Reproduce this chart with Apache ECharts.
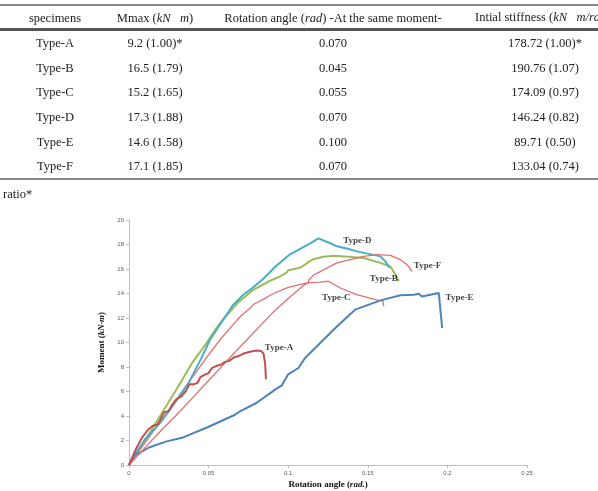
<!DOCTYPE html>
<html>
<head>
<meta charset="utf-8">
<script src="https://cdn.jsdelivr.net/npm/echarts@6/dist/echarts.min.js"></script>
<style>
html,body{margin:0;padding:0;width:598px;height:491px;overflow:hidden;background:#fff;}
#chart{position:absolute;left:0;top:0;width:598px;height:491px;}
#tbl{position:absolute;left:0;top:0;width:598px;height:200px;font-family:"Liberation Serif","DejaVu Serif",serif;font-size:12.5px;color:#222;pointer-events:none;}
.ln{position:absolute;left:0;width:598px;}
.c{position:absolute;white-space:nowrap;transform:translate(-50%,-50%);}
</style>
</head>
<body>
<div id="chart"></div>
<div id="tbl"></div>
<script>
// ---- table data ----
var tableHeaders = ['specimens', 'Mmax (<i>kN</i>&nbsp;&nbsp; <i>m</i>)', 'Rotation angle (<i>rad</i>) -At the same moment-', 'Intial stiffness (<i>kN</i>&nbsp;&nbsp; <i>m/rad</i>)'];
var specimens = ['Type-A', 'Type-B', 'Type-C', 'Type-D', 'Type-E', 'Type-F'];
var mmax = ['9.2 (1.00)*', '16.5 (1.79)', '15.2 (1.65)', '17.3 (1.88)', '14.6 (1.58)', '17.1 (1.85)'];
var rotAngle = ['0.070', '0.045', '0.055', '0.070', '0.100', '0.070'];
var stiffness = ['178.72 (1.00)*', '190.76 (1.07)', '174.09 (0.97)', '146.24 (0.82)', '89.71 (0.50)', '133.04 (0.74)'];
var footnote = 'ratio*';

// ---- chart data: [rotation angle (rad), moment (kN·m)] ----
var typeA = [[0,0],[0.004,1.2],[0.008,2.2],[0.012,2.9],[0.015,3.2],[0.018,3.3],[0.02,3.8],[0.022,4.3],[0.025,4.4],[0.027,4.9],[0.03,5.4],[0.033,5.6],[0.036,6.1],[0.038,6.6],[0.041,6.6],[0.043,6.7],[0.045,7.2],[0.048,7.4],[0.05,7.5],[0.052,7.9],[0.055,8.1],[0.058,8.2],[0.06,8.4],[0.063,8.5],[0.066,8.8],[0.069,8.9],[0.072,9.1],[0.076,9.25],[0.08,9.35],[0.083,9.3],[0.0845,9.1],[0.0855,8.3],[0.086,7.0]];
var typeB = [[0,0],[0.005,1.0],[0.01,2.0],[0.02,4.1],[0.03,6.2],[0.04,8.4],[0.0487,9.96],[0.055,11.2],[0.0592,11.9],[0.068,13.2],[0.0781,14.3],[0.088,15.0],[0.0949,15.4],[0.099,15.7],[0.1,15.9],[0.1075,16.1],[0.111,16.4],[0.113,16.6],[0.1159,16.8],[0.122,17.0],[0.1285,17.09],[0.1379,17.0],[0.1474,16.9],[0.1579,16.5],[0.1642,16.2],[0.1673,15.55],[0.1694,15.0]];
var typeC = [[0,0],[0.01,1.8],[0.02,3.6],[0.03,5.4],[0.04,7.2],[0.05,9.0],[0.057,10.2],[0.065,11.4],[0.0698,12.1],[0.0765,12.85],[0.078,13.1],[0.084,13.5],[0.0907,14.0],[0.1,14.5],[0.1117,14.86],[0.12,14.93],[0.1253,15.0],[0.1327,14.45],[0.143,13.9],[0.1568,13.44],[0.1595,13.4],[0.16,12.95]];
var typeD = [[0,0],[0.005,1.1],[0.01,2.1],[0.02,3.5],[0.03,5.3],[0.037,6.6],[0.045,8.6],[0.0508,10.2],[0.0592,11.86],[0.065,13.0],[0.0718,13.9],[0.078,14.5],[0.0844,15.2],[0.092,16.2],[0.1012,17.2],[0.1138,18.1],[0.119,18.5],[0.1264,18.1],[0.1306,17.85],[0.1379,17.63],[0.1432,17.44],[0.1579,17.03],[0.161,16.62],[0.1637,16.08]];
var typeE = [[0,0],[0.0036,0.84],[0.0068,1.0],[0.013,1.45],[0.0236,1.93],[0.034,2.25],[0.0497,3.1],[0.0666,4.1],[0.0697,4.38],[0.08,5.06],[0.0918,6.15],[0.096,6.5],[0.1,7.4],[0.1064,7.92],[0.1106,8.73],[0.1306,11.31],[0.142,12.68],[0.158,13.44],[0.1705,13.85],[0.179,13.9],[0.182,13.98],[0.184,13.76],[0.1946,14.04],[0.1967,11.18]];
var typeF = [[0,0],[0.01,1.4],[0.02,2.8],[0.03,4.1],[0.04,5.5],[0.05,6.9],[0.06,8.3],[0.0739,10.2],[0.09,12.4],[0.1,13.6],[0.11,14.7],[0.1125,14.85],[0.113,15.1],[0.1159,15.5],[0.1306,16.5],[0.1474,17.03],[0.1558,17.17],[0.1642,17.11],[0.1705,16.76],[0.1747,16.35],[0.1778,15.8]];
var seriesNames = ['Type-A', 'Type-B', 'Type-C', 'Type-D', 'Type-E', 'Type-F'];
var seriesColors = ['#C0504D', '#9BBB59', '#E07070', '#4BACC6', '#4F81BD', '#E07070'];
var seriesWidths = [2, 2, 1.3, 2, 2, 1.3];
// label anchor (data coords) for each series name
var labelPos = [[0.0942,9.58],[0.16,15.21],[0.1302,13.7],[0.1434,18.3],[0.2076,13.7],[0.1875,16.27]];
var xTicks = [0, 0.05, 0.1, 0.15, 0.2, 0.25];

// ---- build table ----
(function(){
  var t = document.getElementById('tbl');
  function line(y, h, col){ var d=document.createElement('div'); d.className='ln'; d.style.top=y+'px'; d.style.height=h+'px'; d.style.background=col; t.appendChild(d); }
  function cell(x, y, html, extra){ var d=document.createElement('div'); d.className='c'; d.style.left=x+'px'; d.style.top=y+'px'; d.innerHTML=html; if(extra){for(var k in extra) d.style[k]=extra[k];} t.appendChild(d); }
  line(4, 1.5, '#8a8a8a');
  line(28, 3, '#555');
  line(178, 1.8, '#8a8a8a');
  var cx = [55, 155, 333, 545];
  var hx = [55, 155, 333, null];
  for (var i=0;i<3;i++) cell(hx[i], 18, tableHeaders[i]);
  var h4 = document.createElement('div'); h4.style.position='absolute'; h4.style.left='475px'; h4.style.top='10px'; h4.style.whiteSpace='nowrap'; h4.innerHTML=tableHeaders[3]; t.appendChild(h4);
  var rowY0 = 43.3, rowH = 24.55;
  for (var r=0;r<specimens.length;r++){
    var y = rowY0 + r*rowH;
    cell(cx[0], y, specimens[r]);
    cell(cx[1], y, mmax[r]);
    cell(cx[2], y, rotAngle[r]);
    cell(cx[3], y, stiffness[r]);
  }
  var f = document.createElement('div'); f.style.position='absolute'; f.style.left='3px'; f.style.top='187px'; f.style.whiteSpace='nowrap'; f.textContent=footnote; t.appendChild(f);
})();

// ---- chart ----
var allData = [typeA, typeB, typeC, typeD, typeE, typeF];
var chart = echarts.init(document.getElementById('chart'), null, {renderer:'canvas'});
var series = allData.map(function(d, i){
  return {
    name: seriesNames[i], type:'line', data:d, symbol:'none', smooth:false,
    lineStyle:{color:seriesColors[i], width:seriesWidths[i]},
    itemStyle:{color:seriesColors[i]}, z: 2 + (i===0?3:0)
  };
});
series.push({
  type:'scatter', symbolSize:0, silent:true,
  data: labelPos.map(function(p,i){ return {value:p, name:seriesNames[i]}; }),
  label:{show:true, position:'inside', formatter:'{b}', fontFamily:'Liberation Serif', fontWeight:'bold', fontSize:9, color:'#111'}
});
chart.setOption({
  animation:false,
  grid:{left:129, right:71, top:220, bottom:26, containLabel:false},
  xAxis:{
    type:'value', min:0, max:0.25, interval:0.05,
    name:'Rotation angle (rad.)', nameLocation:'middle', nameGap:15,
    nameTextStyle:{fontFamily:'Liberation Serif', fontWeight:'bold', fontSize:9, color:'#111',
      rich:{i:{fontFamily:'Liberation Serif', fontWeight:'bold', fontStyle:'italic', fontSize:9, color:'#111'}}},
    axisLine:{lineStyle:{color:'#BFBFBF', width:1}},
    axisTick:{show:true, length:3, lineStyle:{color:'#BFBFBF'}},
    axisLabel:{fontSize:6, color:'#595959', fontFamily:'Liberation Sans', margin:5},
    splitLine:{show:false}
  },
  yAxis:{
    type:'value', min:0, max:20, interval:2,
    name:'Moment (kN·m)', nameLocation:'middle', nameGap:16,
    nameTextStyle:{fontFamily:'Liberation Serif', fontWeight:'bold', fontSize:9, color:'#111'},
    axisLine:{show:true, lineStyle:{color:'#BFBFBF', width:1}},
    axisTick:{show:true, length:3, lineStyle:{color:'#BFBFBF'}},
    axisLabel:{fontSize:6, color:'#595959', fontFamily:'Liberation Sans', margin:5},
    splitLine:{show:false}
  },
  series: series
});
// italic parts of axis names via rich text
chart.setOption({
  xAxis:{name:'Rotation angle ({i|rad.})'},
  yAxis:{name:'Moment ({i|kN·m})', nameTextStyle:{rich:{i:{fontFamily:'Liberation Serif', fontWeight:'bold', fontStyle:'italic', fontSize:9, color:'#111'}}}}
});
</script>
</body>
</html>
